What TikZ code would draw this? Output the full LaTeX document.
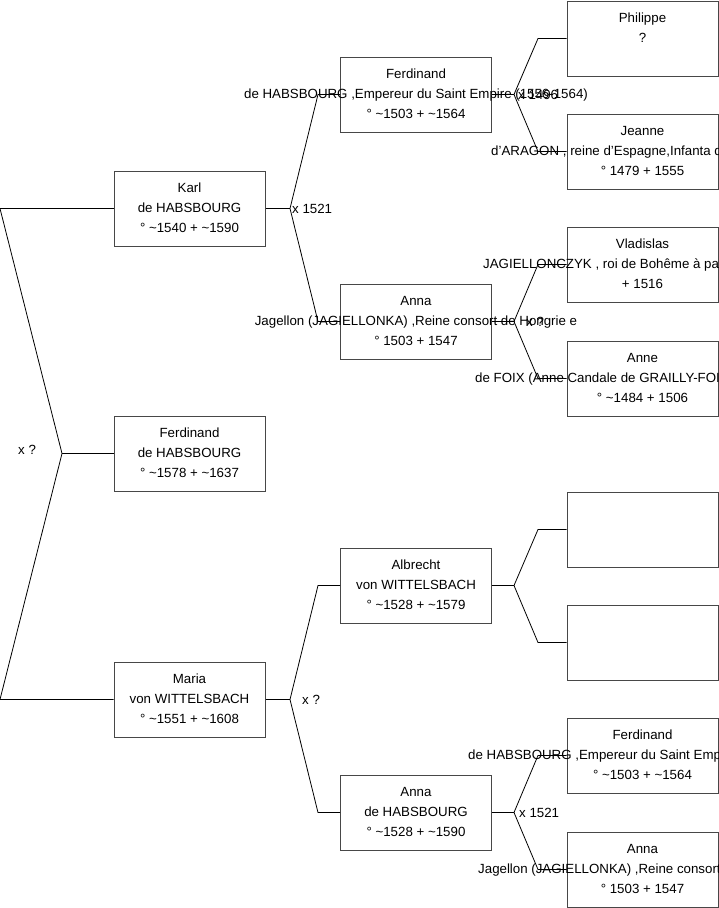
\documentclass[tikz,border=0pt]{standalone}
\usepackage{fontspec}
\setmainfont{Liberation Sans}
\tikzset{
  pbox/.style={draw=black!72, fill=white, line width=1pt, minimum width=151pt, minimum height=75pt, inner sep=0pt},
  ln/.style={inner sep=0pt, text height=9.4pt, text depth=0pt, font=\fontsize{13.3pt}{15pt}\selectfont},
  wire/.style={draw=black, line width=0.8pt}
}
\newcommand{\personlines}[4]{%
  \node[ln] at ([yshift=21pt]#1.center) {#2};
  \node[ln] at ([yshift=1pt]#1.center) {#3};
  \node[ln] at ([yshift=-19pt]#1.center) {#4};}
\begin{document}
\begin{tikzpicture}[x=1pt,y=-1pt]
\useasboundingbox (0,0) rectangle (719,908);
\clip (0,0) rectangle (719,908);
% boxes generation 1
\node[pbox] (karl) at (189.5,208.5) {};
\node[pbox] (ferd1) at (189.5,453.5) {};
\node[pbox] (maria) at (189.5,699.5) {};
% generation 2
\node[pbox] (ferd2) at (416,94.5) {};
\node[pbox] (anna2) at (416,321.5) {};
\node[pbox] (albr) at (416,585.5) {};
\node[pbox] (annah) at (416,812.5) {};
% generation 3
\node[pbox] (phil) at (642.5,38.5) {};
\node[pbox] (jean) at (642.5,151.5) {};
\node[pbox] (vlad) at (642.5,264.5) {};
\node[pbox] (anne) at (642.5,378.5) {};
\node[pbox] (ea) at (642.5,529.5) {};
\node[pbox] (eb) at (642.5,642.5) {};
\node[pbox] (ferd3) at (642.5,755.5) {};
\node[pbox] (anna3) at (642.5,869.5) {};
% fork points
\coordinate (rT) at (0,208.5); \coordinate (rF) at (62,453.5); \coordinate (rB) at (0,699.5);
\coordinate (kF) at (290,208.5); \coordinate (kU) at (318,94.5); \coordinate (kD) at (318,321.5);
\coordinate (mF) at (290,699.5); \coordinate (mU) at (318,585.5); \coordinate (mD) at (318,812.5);
\coordinate (fF) at (514,94.5); \coordinate (fU) at (538,38.5); \coordinate (fD) at (538,151.5);
\coordinate (aF) at (514,321.5); \coordinate (aU) at (538,264.5); \coordinate (aD) at (538,378.5);
\coordinate (bF) at (514,585.5); \coordinate (bU) at (538,529.5); \coordinate (bD) at (538,642.5);
\coordinate (hF) at (514,812.5); \coordinate (hU) at (538,755.5); \coordinate (hD) at (538,869.5);
% connectors
\draw[wire] (rT) -- (karl.west);
\draw[wire] (rT) -- (rF) -- (rB) -- (maria.west);
\draw[wire] (rF) -- (ferd1.west);
\draw[wire] (karl.east) -- (kF);
\draw[wire] (ferd2.west) -- (kU) -- (kF) -- (kD) -- (anna2.west);
\draw[wire] (maria.east) -- (mF);
\draw[wire] (albr.west) -- (mU) -- (mF) -- (mD) -- (annah.west);
\draw[wire] (ferd2.east) -- (fF);
\draw[wire] (phil.west) -- (fU) -- (fF) -- (fD) -- (jean.west);
\draw[wire] (anna2.east) -- (aF);
\draw[wire] (vlad.west) -- (aU) -- (aF) -- (aD) -- (anne.west);
\draw[wire] (albr.east) -- (bF);
\draw[wire] (ea.west) -- (bU) -- (bF) -- (bD) -- (eb.west);
\draw[wire] (annah.east) -- (hF);
\draw[wire] (ferd3.west) -- (hU) -- (hF) -- (hD) -- (anna3.west);
% fork labels
\node[ln,anchor=west] (lr) at (18,450) {x ?};
\node[ln,anchor=west] (lk) at (292,208.5) {x 1521};
\node[ln,anchor=west] (lm) at (302,699.5) {x ?};
\node[ln,anchor=west] (lf) at (518,94.5) {x 1496};
\node[ln,anchor=west] (la) at (526,321.5) {x ?};
\node[ln,anchor=west] (lh) at (519,812.5) {x 1521};
% texts
\personlines{karl}{Karl}{de HABSBOURG}{° \textasciitilde 1540 + \textasciitilde 1590}
\personlines{ferd1}{Ferdinand}{de HABSBOURG}{° \textasciitilde 1578 + \textasciitilde 1637}
\personlines{maria}{Maria}{von WITTELSBACH}{° \textasciitilde 1551 + \textasciitilde 1608}
\personlines{ferd2}{Ferdinand}{de HABSBOURG ,Empereur du Saint Empire (1556-1564)}{° \textasciitilde 1503 + \textasciitilde 1564}
\personlines{anna2}{Anna}{Jagellon (JAGIELLONKA) ,Reine consort de Hongrie e}{° 1503 + 1547}
\personlines{albr}{Albrecht}{von WITTELSBACH}{° \textasciitilde 1528 + \textasciitilde 1579}
\personlines{annah}{Anna}{de HABSBOURG}{° \textasciitilde 1528 + \textasciitilde 1590}
% generation 3 texts
\node[ln] at ([yshift=21pt]phil.center) {Philippe};
\node[ln] at ([yshift=1pt]phil.center) {?};
\node[ln] at ([yshift=21pt]jean.center) {Jeanne};
\node[ln,anchor=west] at (491,150.5) {d'ARAGON , reine d'Espagne,Infanta d};
\node[ln] at ([yshift=-19pt]jean.center) {° 1479 + 1555};
\node[ln] at ([yshift=21pt]vlad.center) {Vladislas};
\node[ln,anchor=west] at (483,263.5) {JAGIELLONCZYK , roi de Bohême à pa};
\node[ln] at ([yshift=-19pt]vlad.center) {+ 1516};
\node[ln] at ([yshift=21pt]anne.center) {Anne};
\node[ln,anchor=west] at (475,377.5) {de FOIX (Anne Candale de GRAILLY-FOI};
\node[ln] at ([yshift=-19pt]anne.center) {° \textasciitilde 1484 + 1506};
\node[ln] at ([yshift=21pt]ferd3.center) {Ferdinand};
\node[ln,anchor=west] at (468,754.5) {de HABSBOURG ,Empereur du Saint Emp};
\node[ln] at ([yshift=-19pt]ferd3.center) {° \textasciitilde 1503 + \textasciitilde 1564};
\node[ln] at ([yshift=21pt]anna3.center) {Anna};
\node[ln,anchor=west] at (478,868.5) {Jagellon (JAGIELLONKA) ,Reine consort};
\node[ln] at ([yshift=-19pt]anna3.center) {° 1503 + 1547};
\end{tikzpicture}
\end{document}
